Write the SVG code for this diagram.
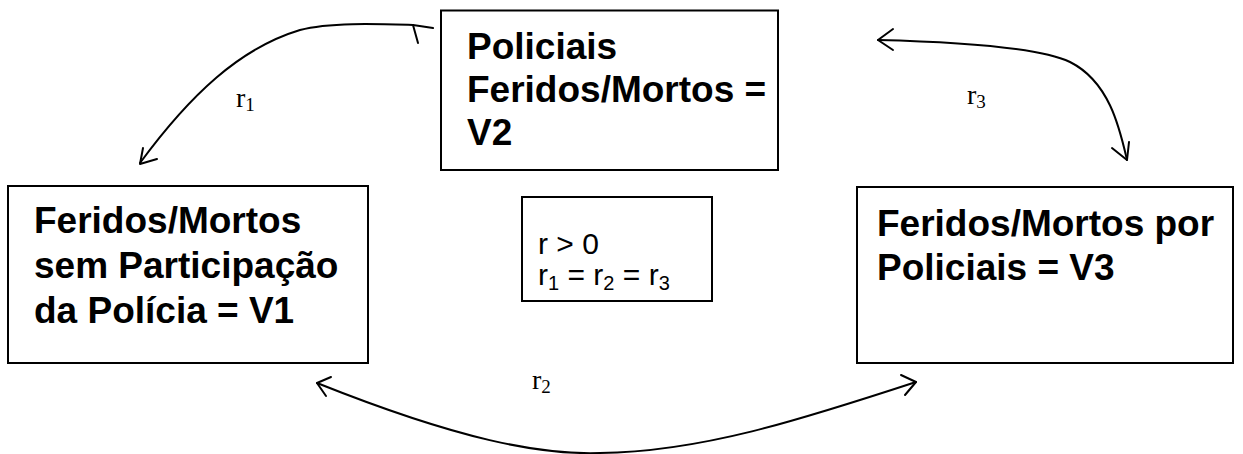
<svg xmlns="http://www.w3.org/2000/svg" width="1243" height="454" viewBox="0 0 1243 454">
<defs>
<style>
.box{fill:#fff;stroke:#000;stroke-width:2}
.t{font-family:"Liberation Sans",Arial,sans-serif;font-weight:bold;font-size:37px;fill:#000}
.m{font-family:"Liberation Sans",Arial,sans-serif;font-size:30px;fill:#000}
.lab{font-family:"Liberation Serif","Times New Roman",serif;font-size:28px;fill:#000}
.c{fill:none;stroke:#000;stroke-width:2;stroke-linecap:round;stroke-linejoin:round}
</style>
</defs>
<rect width="1243" height="454" fill="#fff"/>
<g id="connectors">
<path class="c" d="M433,28 L413,25 C380,24 330,22 300,30 C240,48 190,95 140,163"/>
<path class="c" d="M413,25 L418,43"/>
<path class="c" d="M143,148 L140,164 L157,159"/>
<path class="c" d="M878,40 C960,42 1040,48 1070,62 C1110,82 1120,130 1127,160"/>
<path class="c" d="M893,29 L878,40 L893,50"/>
<path class="c" d="M1112,148 L1127,160 L1129,142"/>
<path class="c" d="M317,383 C460,440 540,455 600,453 C700,452 800,420 916,382"/>
<path class="c" d="M331,377 L317,383 L326,396"/>
<path class="c" d="M901,375 L916,382 L905,395"/>
</g>
<g id="node-v2">
<rect class="box" x="441" y="10.5" width="337" height="159.5"/>
<text class="t" x="467" y="59">Policiais</text>
<text class="t" x="467" y="102">Feridos/Mortos =</text>
<text class="t" x="467" y="145">V2</text>
</g>
<g id="node-v1">
<rect class="box" x="8" y="186" width="360" height="177"/>
<text class="t" x="34" y="233">Feridos/Mortos</text>
<text class="t" x="34" y="278">sem Participação</text>
<text class="t" x="34" y="323">da Polícia = V1</text>
</g>
<g id="node-v3">
<rect class="box" x="857" y="187" width="376" height="176"/>
<text class="t" x="877" y="236">Feridos/Mortos por</text>
<text class="t" x="877" y="280">Policiais = V3</text>
</g>
<g id="node-cond">
<rect class="box" x="522" y="197" width="190" height="104"/>
<text class="m" x="538" y="254">r &gt; 0</text>
<text class="m" x="538" y="285">r<tspan font-size="20" dy="5">1</tspan><tspan dy="-5"> = r</tspan><tspan font-size="20" dy="5">2</tspan><tspan dy="-5"> = r</tspan><tspan font-size="20" dy="5">3</tspan></text>
</g>
<g id="labels">
<text class="lab" x="236" y="107">r<tspan font-size="19" dy="4">1</tspan></text>
<text class="lab" x="967" y="104">r<tspan font-size="19" dy="4">3</tspan></text>
<text class="lab" x="532" y="389">r<tspan font-size="19" dy="4">2</tspan></text>
</g>
</svg>
